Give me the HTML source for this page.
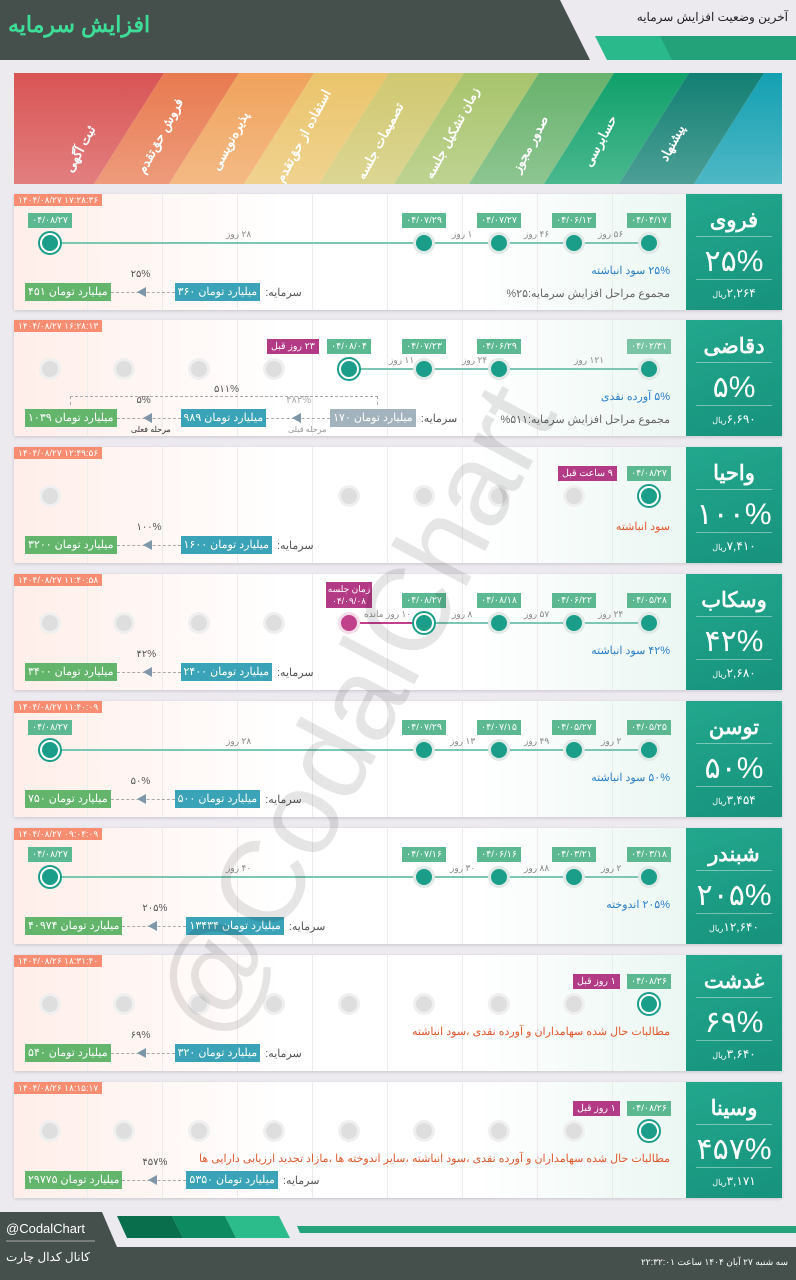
<!DOCTYPE html>
<html><head><meta charset="utf-8">
<style>
*{margin:0;padding:0;box-sizing:border-box}
body{width:796px;height:1280px;background:#ece9ef;position:relative;overflow:hidden;font-family:"Liberation Sans","Noto Sans CJK SC",sans-serif}
.a{position:absolute}
.card{position:absolute;left:14px;width:768px;height:116px;background:linear-gradient(90deg,rgba(255,255,255,0) 0 73px,#ececec 73px 74px,rgba(255,255,255,0) 74px) 0 0/75px 100% repeat-x,linear-gradient(90deg,#ffeee9 0%,#fff 35%,#fff 60%,#e9f6f1 90%);box-shadow:0 1px 3px rgba(0,0,0,.15);overflow:hidden}
.ts{position:absolute;left:0;top:0;height:12px;padding:0 4px;background:#f98d72;color:#fff;font-size:9px;line-height:12px;direction:ltr}
.n{position:absolute;top:41px;width:16px;height:16px;margin-left:-8px;border-radius:50%;background:#1a9e8a;box-shadow:0 0 0 3px #dfe9e6}
.g{background:#dedede;box-shadow:0 0 0 3px #efefef}
.r{top:39px;width:20px;height:20px;margin-left:-10px;border:2px solid #fff;box-shadow:0 0 0 2px #1a9e8a}
.m{background:#c0408b;box-shadow:0 0 0 3px #f3dbe8}
.d{position:absolute;top:19px;width:44px;height:15px;margin-left:-22px;background:#5cb891;color:#fff;font-size:9.5px;line-height:15px;text-align:center}
.l{position:absolute;top:48px;height:2px;background:#7cc7b4}
.dy{position:absolute;top:35px;font-size:9px;color:#888;direction:rtl;white-space:nowrap}
.t1{position:absolute;right:112px;top:70px;font-size:11px;color:#2a7fc8;direction:rtl;white-space:nowrap}
.o{color:#e0582c}
.t2{position:absolute;right:112px;top:93px;font-size:11px;color:#666;direction:rtl}
.row{position:absolute;left:11px;top:89px;display:flex;align-items:center;direction:ltr}
.row b{font-weight:normal}
.gb{display:flex;gap:3px;background:#62b56b;color:#fff;font-size:11px;height:18px;line-height:18px;padding:0 3px;white-space:nowrap;direction:ltr}
.tb{display:flex;gap:3px;background:#3aa3b7;color:#fff;font-size:11px;height:18px;line-height:18px;padding:0 3px;white-space:nowrap;direction:ltr}
.ar{position:relative;width:64px;height:18px}
.ar:before{content:"";position:absolute;left:0;right:0;top:9px;border-top:1px dashed #aaa}
.ar:after{content:"";position:absolute;left:26px;top:4px;border-right:9px solid #7f96a8;border-top:5px solid transparent;border-bottom:5px solid transparent}
.ar span{position:absolute;left:20px;top:-14px;font-size:10px;color:#555}
.sm{font-size:11px;color:#555;margin-left:5px;direction:rtl}
.p{position:absolute;left:672px;top:0;width:96px;height:116px;background:linear-gradient(160deg,#22a78d,#17927c);color:#fff;text-align:center}
.p .nm{position:absolute;top:14px;width:100%;font-size:21px;font-weight:bold}
.p .s1{position:absolute;top:42px;left:10px;right:10px;border-top:1px solid rgba(255,255,255,.4)}
.p .s2{position:absolute;top:85px;left:10px;right:10px;border-top:1px solid rgba(255,255,255,.4)}
.p .pc{position:absolute;top:50px;width:100%;font-size:30px}
.p .pr{position:absolute;top:92px;width:100%;font-size:12px;direction:rtl}
.p .pr small{font-size:8px}
.tag{position:absolute;top:19px;height:15px;padding:0 4px;background:#b33b85;color:#fff;font-size:9.5px;line-height:15px;direction:rtl;white-space:nowrap}
</style></head><body>

<!-- header -->
<svg class="a" style="left:0;top:0" width="796" height="62">
<polygon points="0,0 560,0 590,60 0,60" fill="#454f4c"/>
<polygon points="595,36 796,36 796,60 607,60" fill="#2ab98a"/>
<polygon points="660,36 796,36 796,60 672,60" fill="#23a27a"/>
</svg>
<div class="a" style="left:8px;top:12px;font-size:22px;font-weight:bold;color:#3ddc97;direction:rtl">افزایش سرمایه</div>
<div class="a" style="right:8px;top:10px;font-size:12px;color:#222;direction:rtl">آخرین وضعیت افزایش سرمایه</div>

<!-- stages -->
<svg class="a" style="left:14px;top:73px" width="768" height="111">
<defs><linearGradient id="fd" x1="0" y1="0" x2="0" y2="1"><stop offset="0" stop-color="#fff" stop-opacity="0"/><stop offset="1" stop-color="#fff" stop-opacity=".25"/></linearGradient></defs>
<polygon points="0,0 150,0 80,111 0,111" fill="#d95454"/>
<polygon points="150,0 225,0 155,111 80,111" fill="#e87a50"/>
<polygon points="225,0 300,0 230,111 155,111" fill="#f0a35c"/>
<polygon points="300,0 375,0 305,111 230,111" fill="#ebc46b"/>
<polygon points="375,0 450,0 380,111 305,111" fill="#d0c870"/>
<polygon points="450,0 525,0 455,111 380,111" fill="#a8c46c"/>
<polygon points="525,0 600,0 530,111 455,111" fill="#68b26c"/>
<polygon points="600,0 675,0 605,111 530,111" fill="#0fa06a"/>
<polygon points="675,0 750,0 680,111 605,111" fill="#127f73"/>
<polygon points="750,0 768,0 768,111 680,111" fill="#14a0b2"/>
<rect width="768" height="111" fill="url(#fd)"/>
<g fill="#fff" font-size="13" font-weight="bold" font-family="Liberation Sans,Noto Sans CJK SC,sans-serif" text-anchor="middle" direction="rtl">
<text transform="translate(70,78) rotate(-62)">ثبت آگهی</text>
<text transform="translate(150,65) rotate(-62)">فروش حق‌تقدم</text>
<text transform="translate(220,70) rotate(-62)">پذیره‌نویسی</text>
<text transform="translate(293,65) rotate(-62)">استفاده از حق‌تقدم</text>
<text transform="translate(370,70) rotate(-62)">تصمیمات جلسه</text>
<text transform="translate(442,62) rotate(-62)">زمان تشکیل جلسه</text>
<text transform="translate(520,73) rotate(-62)">صدور مجوز</text>
<text transform="translate(590,70) rotate(-62)">حسابرسی</text>
<text transform="translate(662,72) rotate(-62)">پیشنهاد</text>
</g>
</svg>

<!-- card 1 -->
<div class="card" style="top:194px">
<div class="ts">۱۴۰۴/۰۸/۲۷ ۱۷:۲۸:۳۶</div>
<div class="l" style="left:36px;width:599px"></div>
<div class="d" style="left:635px">۰۴/۰۴/۱۷</div><div class="d" style="left:560px">۰۴/۰۶/۱۲</div><div class="d" style="left:485px">۰۴/۰۷/۲۷</div><div class="d" style="left:410px">۰۴/۰۷/۲۹</div><div class="d" style="left:36px">۰۴/۰۸/۲۷</div>
<div class="dy" style="left:584px">۵۶ روز</div><div class="dy" style="left:510px">۴۶ روز</div><div class="dy" style="left:438px">۱ روز</div><div class="dy" style="left:212px">۲۸ روز</div>
<div class="n" style="left:635px"></div><div class="n" style="left:560px"></div><div class="n" style="left:485px"></div><div class="n" style="left:410px"></div><div class="n r" style="left:36px"></div>
<div class="t1">۲۵% سود انباشته</div>
<div class="t2">مجموع مراحل افزایش سرمایه:۲۵%</div>
<div class="row"><div class="gb"><b>۴۵۱</b><span>میلیارد تومان</span></div><div class="ar"><span>۲۵%</span></div><div class="tb"><b>۳۶۰</b><span>میلیارد تومان</span></div><div class="sm">سرمایه:</div></div>
<div class="p"><div class="nm">فروی</div><div class="s1"></div><div class="pc">۲۵%</div><div class="s2"></div><div class="pr">۲,۲۶۴<small>ریال</small></div></div>
</div>

<!-- card 2 -->
<div class="card" style="top:320px">
<div class="ts">۱۴۰۴/۰۸/۲۷ ۱۶:۲۸:۱۳</div>
<div class="l" style="left:335px;width:300px"></div>
<div class="d" style="left:635px;opacity:.8">۰۴/۰۲/۳۱</div><div class="d" style="left:485px">۰۴/۰۶/۲۹</div><div class="d" style="left:410px">۰۴/۰۷/۲۳</div><div class="d" style="left:335px">۰۴/۰۸/۰۴</div>
<div class="tag" style="left:253px">۲۳ روز قبل</div>
<div class="dy" style="left:560px">۱۲۱ روز</div><div class="dy" style="left:448px">۲۴ روز</div><div class="dy" style="left:375px">۱۱ روز</div>
<div class="n" style="left:635px"></div><div class="n" style="left:485px"></div><div class="n" style="left:410px"></div><div class="n r" style="left:335px"></div>
<div class="n g" style="left:260px"></div><div class="n g" style="left:185px"></div><div class="n g" style="left:110px"></div><div class="n g" style="left:36px"></div>
<div class="a" style="left:56px;top:76px;width:308px;height:9px;border:1px dashed #aaa;border-bottom:none"></div>
<div class="a" style="left:200px;top:64px;font-size:10px;color:#555">۵۱۱%</div>
<div class="t1">۵% آورده نقدی</div>
<div class="t2">مجموع مراحل افزایش سرمایه:۵۱۱%</div>
<div class="row"><div class="gb"><b>۱۰۳۹</b><span>میلیارد تومان</span></div><div class="ar"><span>۵%</span></div><div class="tb"><b>۹۸۹</b><span>میلیارد تومان</span></div><div class="ar"><span style="color:#aaa">۴۸۲%</span></div><div class="tb" style="background:#a3b3bd"><b>۱۷۰</b><span>میلیارد تومان</span></div><div class="sm">سرمایه:</div></div>
<div class="a" style="left:117px;top:105px;font-size:8px;color:#333">مرحله فعلی</div>
<div class="a" style="left:274px;top:105px;font-size:8px;color:#999">مرحله قبلی</div>
<div class="p"><div class="nm">دقاضی</div><div class="s1"></div><div class="pc">۵%</div><div class="s2"></div><div class="pr">۶,۶۹۰<small>ریال</small></div></div>
</div>

<!-- card 3 -->
<div class="card" style="top:447px">
<div class="ts">۱۴۰۴/۰۸/۲۷ ۱۲:۴۹:۵۶</div>
<div class="d" style="left:635px">۰۴/۰۸/۲۷</div><div class="tag" style="left:544px">۹ ساعت قبل</div>
<div class="n r" style="left:635px"></div>
<div class="n g" style="left:560px"></div><div class="n g" style="left:485px"></div><div class="n g" style="left:410px"></div><div class="n g" style="left:335px"></div><div class="n g" style="left:36px"></div>
<div class="t1 o" style="top:73px">سود انباشته</div>
<div class="row"><div class="gb"><b>۳۲۰۰</b><span>میلیارد تومان</span></div><div class="ar"><span>۱۰۰%</span></div><div class="tb"><b>۱۶۰۰</b><span>میلیارد تومان</span></div><div class="sm">سرمایه:</div></div>
<div class="p"><div class="nm">واحیا</div><div class="s1"></div><div class="pc">۱۰۰%</div><div class="s2"></div><div class="pr">۷,۴۱۰<small>ریال</small></div></div>
</div>

<!-- card 4 -->
<div class="card" style="top:574px">
<div class="ts">۱۴۰۴/۰۸/۲۷ ۱۱:۴۰:۵۸</div>
<div class="l" style="left:410px;width:225px"></div>
<div class="l" style="left:335px;width:75px;background:#c0408b"></div>
<div class="d" style="left:635px">۰۴/۰۵/۲۸</div><div class="d" style="left:560px">۰۴/۰۶/۲۲</div><div class="d" style="left:485px">۰۴/۰۸/۱۸</div><div class="d" style="left:410px">۰۴/۰۸/۲۷</div>
<div class="a" style="left:312px;top:8px;width:46px;height:26px;background:#b33b85;color:#fff;font-size:9px;line-height:12px;text-align:center;padding-top:1px">زمان جلسه<br>۰۴/۰۹/۰۸</div>
<div class="dy" style="left:584px">۲۴ روز</div><div class="dy" style="left:510px">۵۷ روز</div><div class="dy" style="left:438px">۸ روز</div><div class="dy" style="left:350px">۱۰ روز مانده</div>
<div class="n" style="left:635px"></div><div class="n" style="left:560px"></div><div class="n" style="left:485px"></div><div class="n r" style="left:410px"></div><div class="n m" style="left:335px"></div>
<div class="n g" style="left:260px"></div><div class="n g" style="left:185px"></div><div class="n g" style="left:110px"></div><div class="n g" style="left:36px"></div>
<div class="t1">۴۲% سود انباشته</div>
<div class="row"><div class="gb"><b>۳۴۰۰</b><span>میلیارد تومان</span></div><div class="ar"><span>۴۲%</span></div><div class="tb"><b>۲۴۰۰</b><span>میلیارد تومان</span></div><div class="sm">سرمایه:</div></div>
<div class="p"><div class="nm">وسکاب</div><div class="s1"></div><div class="pc">۴۲%</div><div class="s2"></div><div class="pr">۲,۶۸۰<small>ریال</small></div></div>
</div>

<!-- card 5 -->
<div class="card" style="top:701px">
<div class="ts">۱۴۰۴/۰۸/۲۷ ۱۱:۴۰:۰۹</div>
<div class="l" style="left:36px;width:599px"></div>
<div class="d" style="left:635px">۰۴/۰۵/۲۵</div><div class="d" style="left:560px">۰۴/۰۵/۲۷</div><div class="d" style="left:485px">۰۴/۰۷/۱۵</div><div class="d" style="left:410px">۰۴/۰۷/۲۹</div><div class="d" style="left:36px">۰۴/۰۸/۲۷</div>
<div class="dy" style="left:587px">۲ روز</div><div class="dy" style="left:510px">۴۹ روز</div><div class="dy" style="left:436px">۱۳ روز</div><div class="dy" style="left:212px">۲۸ روز</div>
<div class="n" style="left:635px"></div><div class="n" style="left:560px"></div><div class="n" style="left:485px"></div><div class="n" style="left:410px"></div><div class="n r" style="left:36px"></div>
<div class="t1">۵۰% سود انباشته</div>
<div class="row"><div class="gb"><b>۷۵۰</b><span>میلیارد تومان</span></div><div class="ar"><span>۵۰%</span></div><div class="tb"><b>۵۰۰</b><span>میلیارد تومان</span></div><div class="sm">سرمایه:</div></div>
<div class="p"><div class="nm">توسن</div><div class="s1"></div><div class="pc">۵۰%</div><div class="s2"></div><div class="pr">۳,۴۵۴<small>ریال</small></div></div>
</div>

<!-- card 6 -->
<div class="card" style="top:828px">
<div class="ts">۱۴۰۴/۰۸/۲۷ ۰۹:۰۴:۰۹</div>
<div class="l" style="left:36px;width:599px"></div>
<div class="d" style="left:635px">۰۴/۰۳/۱۸</div><div class="d" style="left:560px">۰۴/۰۳/۲۱</div><div class="d" style="left:485px">۰۴/۰۶/۱۶</div><div class="d" style="left:410px">۰۴/۰۷/۱۶</div><div class="d" style="left:36px">۰۴/۰۸/۲۷</div>
<div class="dy" style="left:587px">۲ روز</div><div class="dy" style="left:510px">۸۸ روز</div><div class="dy" style="left:436px">۳۰ روز</div><div class="dy" style="left:212px">۴۰ روز</div>
<div class="n" style="left:635px"></div><div class="n" style="left:560px"></div><div class="n" style="left:485px"></div><div class="n" style="left:410px"></div><div class="n r" style="left:36px"></div>
<div class="t1">۲۰۵% اندوخته</div>
<div class="row"><div class="gb"><b>۴۰۹۷۴</b><span>میلیارد تومان</span></div><div class="ar"><span>۲۰۵%</span></div><div class="tb"><b>۱۳۴۳۴</b><span>میلیارد تومان</span></div><div class="sm">سرمایه:</div></div>
<div class="p"><div class="nm">شبندر</div><div class="s1"></div><div class="pc">۲۰۵%</div><div class="s2"></div><div class="pr">۱۲,۶۴۰<small>ریال</small></div></div>
</div>

<!-- card 7 -->
<div class="card" style="top:955px">
<div class="ts">۱۴۰۴/۰۸/۲۶ ۱۸:۳۱:۴۰</div>
<div class="d" style="left:635px">۰۴/۰۸/۲۶</div><div class="tag" style="left:559px">۱ روز قبل</div>
<div class="n r" style="left:635px"></div>
<div class="n g" style="left:560px"></div><div class="n g" style="left:485px"></div><div class="n g" style="left:410px"></div><div class="n g" style="left:335px"></div><div class="n g" style="left:260px"></div><div class="n g" style="left:185px"></div><div class="n g" style="left:110px"></div><div class="n g" style="left:36px"></div>
<div class="t1 o">مطالبات حال شده سهامداران و آورده نقدی ،سود انباشته</div>
<div class="row"><div class="gb"><b>۵۴۰</b><span>میلیارد تومان</span></div><div class="ar"><span>۶۹%</span></div><div class="tb"><b>۳۲۰</b><span>میلیارد تومان</span></div><div class="sm">سرمایه:</div></div>
<div class="p"><div class="nm">غدشت</div><div class="s1"></div><div class="pc">۶۹%</div><div class="s2"></div><div class="pr">۳,۶۴۰<small>ریال</small></div></div>
</div>

<!-- card 8 -->
<div class="card" style="top:1082px">
<div class="ts">۱۴۰۴/۰۸/۲۶ ۱۸:۱۵:۱۷</div>
<div class="d" style="left:635px">۰۴/۰۸/۲۶</div><div class="tag" style="left:559px">۱ روز قبل</div>
<div class="n r" style="left:635px"></div>
<div class="n g" style="left:560px"></div><div class="n g" style="left:485px"></div><div class="n g" style="left:410px"></div><div class="n g" style="left:335px"></div><div class="n g" style="left:260px"></div><div class="n g" style="left:185px"></div><div class="n g" style="left:110px"></div><div class="n g" style="left:36px"></div>
<div class="t1 o">مطالبات حال شده سهامداران و آورده نقدی ،سود انباشته ،سایر اندوخته ها ،مازاد تجدید ارزیابی دارایی ها</div>
<div class="row"><div class="gb"><b>۲۹۷۷۵</b><span>میلیارد تومان</span></div><div class="ar"><span>۴۵۷%</span></div><div class="tb"><b>۵۳۵۰</b><span>میلیارد تومان</span></div><div class="sm">سرمایه:</div></div>
<div class="p"><div class="nm">وسینا</div><div class="s1"></div><div class="pc">۴۵۷%</div><div class="s2"></div><div class="pr">۳,۱۷۱<small>ریال</small></div></div>
</div>

<!-- watermark -->
<svg class="a" style="left:0;top:0" width="796" height="1280">
<text transform="translate(390,730) rotate(-62)" text-anchor="middle" font-size="118" fill="#000" fill-opacity=".1" font-family="Liberation Sans,sans-serif">@CodalChart</text>
</svg>

<!-- footer -->
<svg class="a" style="left:0;top:1210px" width="796" height="70">
<polygon points="0,2 102,2 117,37 796,37 796,70 0,70" fill="#454f4c"/>
<polygon points="117,6 172,6 183,28 127,28" fill="#086e4c"/>
<polygon points="172,6 225,6 236,28 183,28" fill="#0d8a5f"/>
<polygon points="225,6 279,6 290,28 236,28" fill="#2cbb8a"/>
<polygon points="297,16 796,16 796,23 300,23" fill="#27a37b"/>
<line x1="6" y1="31" x2="95" y2="31" stroke="#aaa" stroke-width="1"/>
</svg>
<div class="a" style="left:6px;top:1221px;font-size:13px;color:#fff">@CodalChart</div>
<div class="a" style="left:6px;top:1250px;font-size:12px;color:#fff;direction:rtl">کانال کدال چارت</div>
<div class="a" style="right:8px;top:1257px;font-size:9px;color:#fff;direction:rtl">سه شنبه ۲۷ آبان ۱۴۰۴ ساعت ۲۲:۳۲:۰۱</div>
</body></html>
